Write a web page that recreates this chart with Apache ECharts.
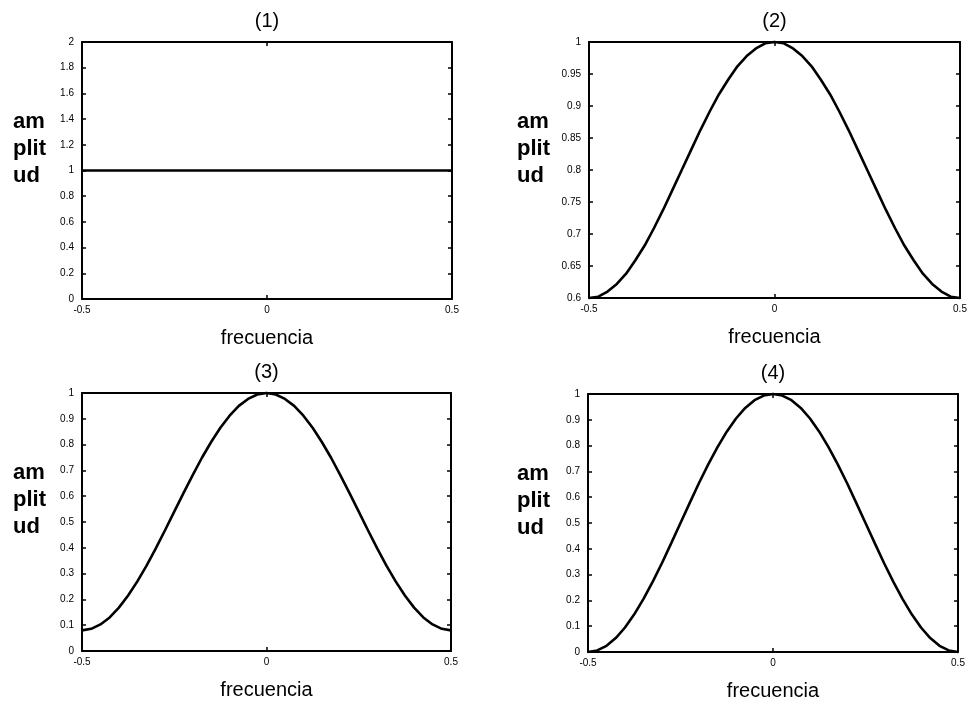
<!DOCTYPE html>
<html>
<head>
<meta charset="utf-8">
<title>Ventanas - respuesta en frecuencia</title>
<script src="https://cdn.jsdelivr.net/npm/echarts@6/dist/echarts.min.js"></script>
<style>
  html, body { margin: 0; padding: 0; background: #fff; }
  #chart { width: 970px; height: 715px; }
</style>
</head>
<body>
<div id="chart"></div>
<script>
// eje de frecuencia, paso 0.025
const freq = [
  -0.5, -0.475, -0.45, -0.425, -0.4, -0.375, -0.35, -0.325, -0.3, -0.275,
  -0.25, -0.225, -0.2, -0.175, -0.15, -0.125, -0.1, -0.075, -0.05, -0.025,
  0,
  0.025, 0.05, 0.075, 0.1, 0.125, 0.15, 0.175, 0.2, 0.225, 0.25,
  0.275, 0.3, 0.325, 0.35, 0.375, 0.4, 0.425, 0.45, 0.475, 0.5
];

// (1) amplitud constante
const amp1 = [
  1, 1, 1, 1, 1, 1, 1, 1, 1, 1,
  1, 1, 1, 1, 1, 1, 1, 1, 1, 1,
  1,
  1, 1, 1, 1, 1, 1, 1, 1, 1, 1,
  1, 1, 1, 1, 1, 1, 1, 1, 1, 1
];

// (2) baja de 1 a 0.6 en los bordes
const amp2 = [
  0.600, 0.602, 0.610, 0.622, 0.638, 0.659, 0.682, 0.709, 0.738, 0.769,
  0.800, 0.831, 0.862, 0.891, 0.918, 0.941, 0.962, 0.978, 0.990, 0.998,
  1.000,
  0.998, 0.990, 0.978, 0.962, 0.941, 0.918, 0.891, 0.862, 0.831, 0.800,
  0.769, 0.738, 0.709, 0.682, 0.659, 0.638, 0.622, 0.610, 0.602, 0.600
];

// (3) baja hasta ~0.08
const amp3 = [
  0.080, 0.086, 0.103, 0.130, 0.168, 0.215, 0.270, 0.331, 0.398, 0.468,
  0.540, 0.612, 0.682, 0.749, 0.810, 0.865, 0.912, 0.950, 0.977, 0.994,
  1.000,
  0.994, 0.977, 0.950, 0.912, 0.865, 0.810, 0.749, 0.682, 0.612, 0.540,
  0.468, 0.398, 0.331, 0.270, 0.215, 0.168, 0.130, 0.103, 0.086, 0.080
];

// (4) baja hasta 0
const amp4 = [
  0.000, 0.006, 0.024, 0.054, 0.095, 0.146, 0.206, 0.273, 0.345, 0.422,
  0.500, 0.578, 0.655, 0.727, 0.794, 0.854, 0.905, 0.946, 0.976, 0.994,
  1.000,
  0.994, 0.976, 0.946, 0.905, 0.854, 0.794, 0.727, 0.655, 0.578, 0.500,
  0.422, 0.345, 0.273, 0.206, 0.146, 0.095, 0.054, 0.024, 0.006, 0.000
];

const titles = ['(1)', '(2)', '(3)', '(4)'];
const amps = [amp1, amp2, amp3, amp4];
// rango del eje y de cada panel: [min, max, paso]
const yRanges = [[0, 2, 0.2], [0.6, 1, 0.05], [0, 1, 0.1], [0, 1, 0.1]];
const xRange = [-0.5, 0.5, 0.5];

const panels = [
  { left: 82, top: 42, width: 370, height: 257 },
  { left: 589, top: 42, width: 371, height: 256 },
  { left: 82, top: 393, width: 369, height: 258 },
  { left: 588, top: 394, width: 370, height: 258 }
];

const FONT = '"Liberation Sans", Arial, sans-serif';

function fmtTick(v) {
  return String(parseFloat(v.toFixed(2)));
}

const chart = echarts.init(document.getElementById('chart'));

const grid = [], xAxis = [], yAxis = [], series = [], graphic = [];

panels.forEach((p, i) => {
  grid.push({ left: p.left, top: p.top, width: p.width, height: p.height, containLabel: false });

  const axisLine = { show: true, onZero: false, lineStyle: { color: '#000', width: 2 } };
  const tick = { show: true, inside: true, length: 4, lineStyle: { color: '#000', width: 1.5 } };

  // abajo (con etiquetas) y arriba (solo marcas)
  xAxis.push({
    gridIndex: i, type: 'value', position: 'bottom',
    min: xRange[0], max: xRange[1], interval: xRange[2],
    axisLine, axisTick: tick, splitLine: { show: false },
    axisLabel: { color: '#000', fontSize: 10, fontFamily: FONT, margin: 6, formatter: fmtTick },
    name: 'frecuencia', nameLocation: 'middle', nameGap: 29,
    nameTextStyle: { color: '#000', fontSize: 20, fontFamily: FONT }
  });
  xAxis.push({
    gridIndex: i, type: 'value', position: 'top',
    min: xRange[0], max: xRange[1], interval: xRange[2],
    axisLine, axisTick: tick, axisLabel: { show: false }, splitLine: { show: false }
  });

  const yr = yRanges[i];
  yAxis.push({
    gridIndex: i, type: 'value', position: 'left',
    min: yr[0], max: yr[1], interval: yr[2],
    axisLine, axisTick: tick, splitLine: { show: false },
    axisLabel: { color: '#000', fontSize: 10, fontFamily: FONT, margin: 8, formatter: fmtTick }
  });
  yAxis.push({
    gridIndex: i, type: 'value', position: 'right',
    min: yr[0], max: yr[1], interval: yr[2],
    axisLine, axisTick: tick, axisLabel: { show: false }, splitLine: { show: false }
  });

  series.push({
    type: 'line',
    xAxisIndex: i * 2, yAxisIndex: i * 2,
    data: freq.map((f, k) => [f, amps[i][k]]),
    showSymbol: false,
    lineStyle: { color: '#000', width: 2.6 },
    clip: false
  });

  // titulo del panel
  graphic.push({
    type: 'text',
    x: p.left + p.width / 2, y: p.top - 31,
    style: { text: titles[i], fill: '#000', fontSize: 20, fontFamily: FONT, align: 'center' }
  });
  // etiqueta del eje y partida en tres lineas
  const labX = i % 2 === 0 ? 13 : 517;
  const labY = p.top + 66;
  graphic.push({
    type: 'text',
    x: labX, y: labY,
    style: {
      text: 'am\nplit\nud', fill: '#000', fontSize: 22, lineHeight: 27,
      fontFamily: FONT, fontWeight: 'bold'
    }
  });
});

chart.setOption({
  animation: false,
  backgroundColor: '#fff',
  grid, xAxis, yAxis, series, graphic
});
</script>
</body>
</html>
